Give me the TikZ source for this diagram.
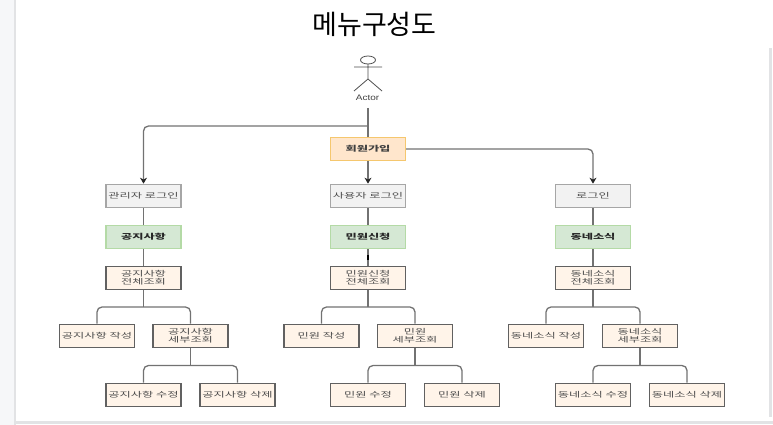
\documentclass[tikz,border=0pt]{standalone}
\usepackage{fontspec}
\setmainfont{Liberation Sans}
\newfontfamily\krfont[FakeStretch=1.65]{Noto Sans CJK KR}
\newfontfamily\krtitle{Noto Sans CJK KR}
\newfontfamily\latinfont[FakeStretch=1.25]{Liberation Sans}
\definecolor{pagegray}{HTML}{F6F7F9}
\definecolor{edgegray}{HTML}{E2E3E5}
\definecolor{linkgray}{HTML}{727272}
\definecolor{joinfill}{HTML}{FFE6CC}
\definecolor{joinline}{HTML}{F5C76E}
\definecolor{groupfill}{HTML}{D5E8D4}
\definecolor{groupline}{HTML}{B4DAA6}
\definecolor{pagefill}{HTML}{FFF4E9}
\usetikzlibrary{arrows.meta}
\tikzset{
	menubox/.style = {draw, line width=1.2pt, minimum width=75pt, minimum height=23.5pt, inner sep=0pt, align=center, font=\krfont\fontsize{7.4}{7.7}\selectfont},
	loginbox/.style = {menubox, draw=black!35, fill=black!5, text=black!70},
	joinbox/.style = {menubox, draw=joinline, fill=joinfill, font=\krfont\bfseries\fontsize{7.4}{7.7}\selectfont, text=black!75},
	groupbox/.style = {menubox, draw=groupline, fill=groupfill, font=\krfont\bfseries\fontsize{7.4}{7.7}\selectfont, text=black!85},
	pagebox/.style = {menubox, draw=black!62, fill=pagefill, text=black!70},
	link/.style = {draw=linkgray, line width=1.3pt},
	treelink/.style = {link, rounded corners=5pt},
	arrowlink/.style = {treelink, -{Stealth[length=6pt,width=7pt,color=black!85]}}
}
\begin{document}
\begin{tikzpicture}[x = 1pt, y = -1pt]
		\useasboundingbox (0,0) rectangle (773,425);
		% page behind the diagram
		\fill [pagegray] (0,0) rectangle (14,425);
		\fill [edgegray] (14,0) rectangle (15.5,425);
		\fill [edgegray] (14,420.5) rectangle (773,424);
		\fill [edgegray] (769,48) rectangle (772,417);
		\node (title) at (374.5,24) {\krtitle\fontsize{27}{27}\selectfont 메뉴구성도};

		% actor
		\draw [black!70, line width=.8pt] (368,60) ellipse (7.5 and 4);
		\draw [black!70, line width=.8pt] (368,64) -- (368,79) (354,67) -- (382,67) (354,91) -- (368,79) -- (382,91);
		\node (actor) [text=black!75, font=\latinfont\fontsize{8}{8}\selectfont] at (367.5,98) {Actor};
		\coordinate (actorfoot) at (368,108);
		\coordinate (actorbranch) at (368,126);

		\node (join) [joinbox] at (368,149) {회원가입};
		\node (adminlogin) [loginbox] at (143.5,196) {관리자 로그인};
		\node (userlogin) [loginbox] at (368,196) {사용자 로그인};
		\node (login) [loginbox] at (593,196) {로그인};

		% first column
		\node (notice) [groupbox] at (143.5,237) {공지사항};
		\node (noticeall) [pagebox] at (143.5,278) {공지사항\\전체조회};
		\node (noticenew) [pagebox] at (97,336) {공지사항 작성};
		\node (noticeone) [pagebox] at (190.5,336) {공지사항\\세부조회};
		\node (noticeedit) [pagebox] at (143.5,395) {공지사항 수정};
		\node (noticedel) [pagebox] at (237.5,395) {공지사항 삭제};
		\coordinate (noticefork) at (143.5,307);
		\coordinate (noticeonefork) at (190.5,365.5);

		% second column
		\node (civil) [groupbox] at (368,237) {민원신청};
		\node (civilall) [pagebox] at (368,278) {민원신청\\전체조회};
		\node (civilnew) [pagebox] at (321.5,336) {민원 작성};
		\node (civilone) [pagebox] at (415,336) {민원\\세부조회};
		\node (civiledit) [pagebox] at (368,395) {민원 수정};
		\node (civildel) [pagebox] at (462,395) {민원 삭제};
		\coordinate (civilfork) at (368,307);
		\coordinate (civilonefork) at (415,365.5);

		% third column
		\node (news) [groupbox] at (593,237) {동네소식};
		\node (newsall) [pagebox] at (593,278) {동네소식\\전체조회};
		\node (newsnew) [pagebox] at (546,336) {동네소식 작성};
		\node (newsone) [pagebox] at (640,336) {동네소식\\세부조회};
		\node (newsedit) [pagebox] at (593,395) {동네소식 수정};
		\node (newsdel) [pagebox] at (687,395) {동네소식 삭제};
		\coordinate (newsfork) at (593,307);
		\coordinate (newsonefork) at (640,365.5);

		\path [link] (actorfoot) -- (join.north);
		\path [arrowlink] (actorbranch) -| (adminlogin.north);
		\path [arrowlink] (join.south) -- (userlogin.north);
		\path [arrowlink] (join.east) -| (login.north);

		\path [link] (adminlogin.south) -- (notice.north);
		\path [link] (notice.south) -- (noticeall.north);
		\path [link] (noticeall.south) -- (noticefork);
		\path [treelink] (noticenew.north) |- (noticefork) -| (noticeone.north);
		\path [link] (noticeone.south) -- (noticeonefork);
		\path [treelink] (noticeedit.north) |- (noticeonefork) -| (noticedel.north);

		\path [link] (userlogin.south) -- (civil.north);
		\path [link] (civil.south) -- (civilall.north);
		\path [draw, black, line width=1.3pt] (368,254.5) -- (368,260);
		\path [link] (civilall.south) -- (civilfork);
		\path [treelink] (civilnew.north) |- (civilfork) -| (civilone.north);
		\path [link] (civilone.south) -- (civilonefork);
		\path [treelink] (civiledit.north) |- (civilonefork) -| (civildel.north);

		\path [link] (login.south) -- (news.north);
		\path [link] (news.south) -- (newsall.north);
		\path [link] (newsall.south) -- (newsfork);
		\path [treelink] (newsnew.north) |- (newsfork) -| (newsone.north);
		\path [link] (newsone.south) -- (newsonefork);
		\path [treelink] (newsedit.north) |- (newsonefork) -| (newsdel.north);
	\end{tikzpicture}
\end{document}
